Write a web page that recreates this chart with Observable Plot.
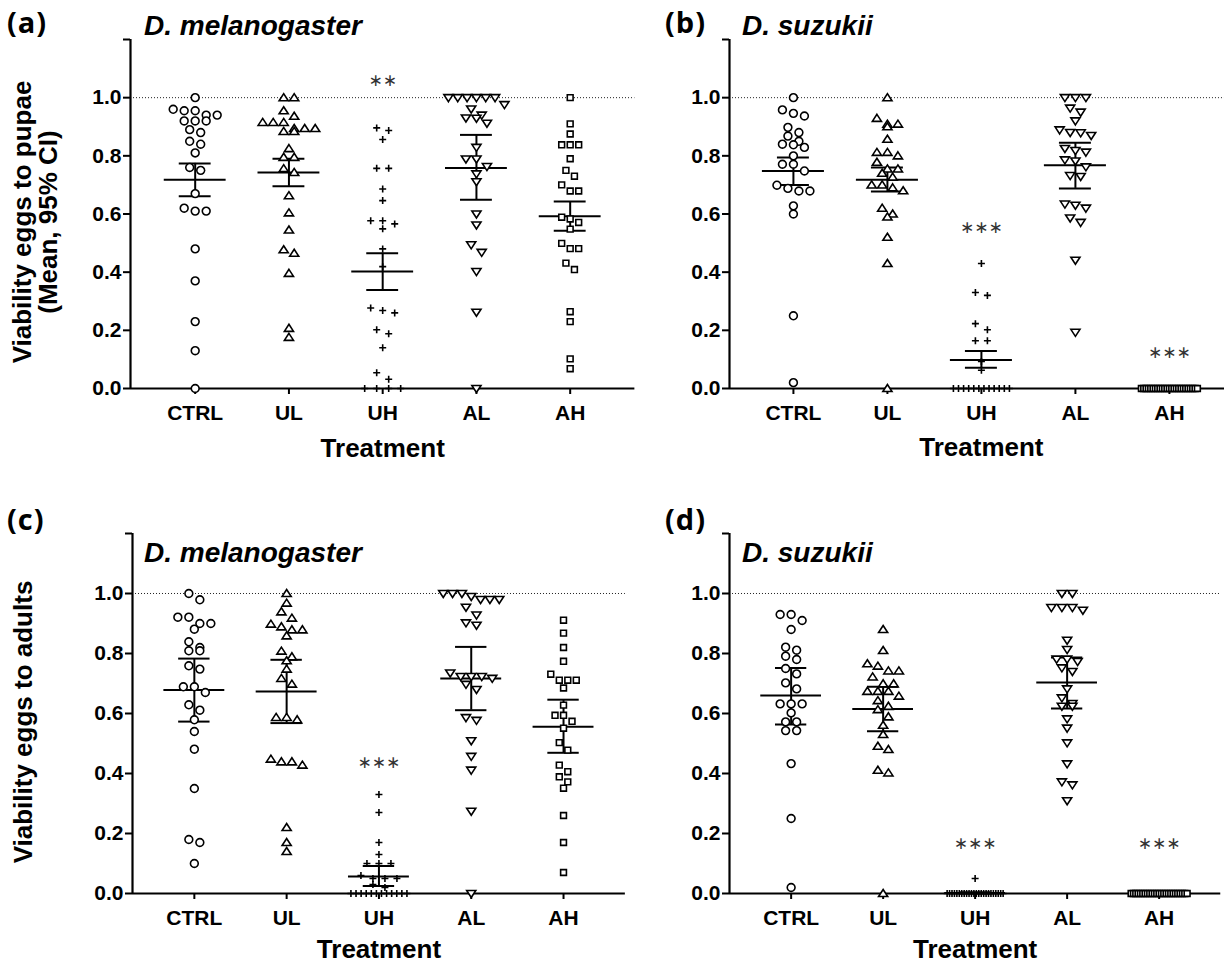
<!DOCTYPE html>
<html><head><meta charset="utf-8">
<script src="https://cdn.jsdelivr.net/npm/d3@7"></script>
<script src="https://cdn.jsdelivr.net/npm/@observablehq/plot@0.6"></script>
<style>
body{margin:0;overflow:hidden;background:#fff;}
#wrap{position:relative;width:1224px;height:965px;overflow:hidden;}
.pl{position:absolute;font-family:"Open Sans",sans-serif;font-weight:700;font-size:29px;line-height:1;letter-spacing:1px;}
.ti{position:absolute;font-family:"Liberation Sans",Arial,sans-serif;font-weight:700;font-style:italic;font-size:28px;line-height:1;white-space:nowrap;}
.yl{position:absolute;font-family:"Liberation Sans",Arial,sans-serif;font-weight:700;font-size:26px;line-height:26px;text-align:center;white-space:nowrap;transform:translate(-50%,-50%) rotate(-90deg);}
</style></head><body><div id="wrap"></div>
<script>
const treatments = ["CTRL","UL","UH","AL","AH"];
const yTicks = [0, 0.2, 0.4, 0.6, 0.8, 1.0, 1.2];

// (a) D. melanogaster, eggs to pupae
const aCTRL = [1.00,0.96,0.955,0.955,0.94,0.94,0.92,0.92,0.92,0.89,0.88,0.85,0.84,0.81,0.76,0.75,0.67,0.62,0.61,0.61,0.48,0.37,0.23,0.13,0.00];
const aUL = [1.0,1.0,0.955,0.936,0.915,0.915,0.915,0.894,0.894,0.894,0.884,0.884,0.825,0.795,0.795,0.756,0.743,0.663,0.604,0.545,0.477,0.465,0.396,0.207,0.176];
const aUH = [0.896,0.887,0.856,0.757,0.757,0.686,0.646,0.577,0.577,0.566,0.549,0.48,0.419,0.277,0.268,0.26,0.202,0.188,0.14,0.054,0.032,0,0,0,0];
const aAL = [1,1,1,1,1,1,0.976,0.961,0.94,0.93,0.929,0.912,0.829,0.789,0.789,0.763,0.738,0.711,0.60,0.562,0.494,0.468,0.402,0.262,0.0];
const aAH = [1.0,0.91,0.875,0.838,0.838,0.838,0.79,0.75,0.73,0.70,0.679,0.679,0.589,0.583,0.571,0.548,0.499,0.481,0.481,0.431,0.409,0.264,0.23,0.102,0.068];
const aMean = [0.718,0.743,0.402,0.758,0.592];
const aLo = [0.661,0.695,0.339,0.649,0.542];
const aHi = [0.774,0.790,0.465,0.872,0.643];
const aStarCats = ["UH"], aStarY = [1.06], aStarText = ["∗∗"];

// (b) D. suzukii, eggs to pupae
const bCTRL = [1.0,0.958,0.946,0.937,0.898,0.88,0.868,0.85,0.84,0.838,0.829,0.80,0.771,0.771,0.748,0.699,0.688,0.679,0.679,0.628,0.60,0.25,0.02];
const bUL = [1.0,0.929,0.909,0.909,0.90,0.857,0.812,0.812,0.80,0.778,0.755,0.755,0.74,0.727,0.70,0.70,0.69,0.68,0.62,0.60,0.59,0.52,0.43,0.0];
const bUH = [0.43,0.33,0.32,0.223,0.202,0.164,0.164,0.093,0.0625,0,0,0,0,0,0,0,0,0,0,0,0];
const bAL = [1,1,1,0.964,0.95,0.92,0.889,0.88,0.879,0.87,0.825,0.818,0.8125,0.786,0.782,0.762,0.732,0.729,0.634,0.63,0.62,0.586,0.571,0.441,0.193];
const bAH = [0,0,0,0,0,0,0,0,0,0,0,0,0,0,0,0,0,0,0,0,0,0,0,0,0];
const bMean = [0.748,0.718,0.098,0.768,0];
const bLo = [0.700,0.677,0.071,0.688,0];
const bHi = [0.794,0.760,0.129,0.845,0];
const bStarCats = ["UH","AH"], bStarY = [0.553,0.124], bStarText = ["∗∗∗","∗∗∗"];

// (c) D. melanogaster, eggs to adults
const cCTRL = [1.0,0.979,0.921,0.921,0.90,0.90,0.881,0.839,0.82,0.809,0.809,0.759,0.748,0.689,0.689,0.67,0.629,0.611,0.579,0.54,0.481,0.35,0.18,0.17,0.10];
const cUL = [1.0,0.968,0.939,0.918,0.898,0.889,0.879,0.879,0.859,0.808,0.789,0.776,0.748,0.717,0.698,0.587,0.587,0.579,0.448,0.439,0.439,0.428,0.22,0.17,0.14];
const cUH = [0.33,0.27,0.17,0.13,0.10,0.10,0.10,0.06,0.05,0.05,0.05,0.03,0.02,0,0,0,0,0,0,0,0,0,0,0,0];
const cAL = [1,1,1,0.99,0.98,0.98,0.98,0.954,0.928,0.902,0.894,0.735,0.723,0.723,0.723,0.717,0.697,0.68,0.586,0.577,0.509,0.457,0.411,0.274,0.0];
const cAH = [0.911,0.868,0.82,0.774,0.731,0.711,0.711,0.711,0.685,0.628,0.594,0.594,0.574,0.551,0.503,0.478,0.428,0.406,0.389,0.372,0.351,0.26,0.17,0.07];
const cMean = [0.678,0.673,0.057,0.717,0.556];
const cLo = [0.573,0.568,0.025,0.611,0.469];
const cHi = [0.783,0.779,0.092,0.822,0.646];
const cStarCats = ["UH"], cStarY = [0.435], cStarText = ["∗∗∗"];

// (d) D. suzukii, eggs to adults
const dCTRL = [0.93,0.93,0.91,0.88,0.821,0.811,0.791,0.78,0.75,0.732,0.702,0.682,0.632,0.632,0.632,0.602,0.572,0.572,0.543,0.543,0.433,0.25,0.02];
const dUL = [0.88,0.81,0.766,0.758,0.742,0.742,0.722,0.699,0.699,0.674,0.674,0.674,0.658,0.643,0.624,0.613,0.589,0.561,0.53,0.491,0.48,0.411,0.402,0.0];
const dUH = [0.05,0,0,0,0,0,0,0,0,0,0,0,0,0,0,0,0,0,0,0,0,0,0,0,0];
const dAL = [1,1,0.953,0.953,0.953,0.944,0.844,0.813,0.781,0.781,0.773,0.752,0.74,0.682,0.652,0.633,0.624,0.624,0.582,0.551,0.502,0.432,0.372,0.362,0.309];
const dAH = [0,0,0,0,0,0,0,0,0,0,0,0,0,0,0,0,0,0,0,0,0,0,0,0,0];
const dMean = [0.660,0.615,0.002,0.703,0];
const dLo = [0.563,0.541,0,0.617,0];
const dHi = [0.752,0.689,0.004,0.787,0];
const dStarCats = ["UH","AH"], dStarY = [0.168,0.168], dStarText = ["∗∗∗","∗∗∗"];

// ---- symbols (open markers) ----
const rad = s => Math.sqrt(s / Math.PI);
const circleSym = {draw(c, s){ const r = rad(s); c.moveTo(r,0); c.arc(0,0,r,0,2*Math.PI); }};
const triUpSym = {draw(c, s){ const r = rad(s); c.moveTo(0,-r*1.05); c.lineTo(r*1.2,r*0.8); c.lineTo(-r*1.2,r*0.8); c.closePath(); }};
const triDownSym = {draw(c, s){ const r = rad(s); c.moveTo(0,r*1.05); c.lineTo(r*1.2,-r*0.8); c.lineTo(-r*1.2,-r*0.8); c.closePath(); }};
const plusSym = {draw(c, s){ const r = rad(s); c.moveTo(-r,0); c.lineTo(r,0); c.moveTo(0,-r); c.lineTo(0,r); }};
const squareSym = {draw(c, s){ const r = rad(s); c.rect(-r,-r,2*r,2*r); }};
const SYMS = [circleSym, triUpSym, plusSym, triDownSym, squareSym];
const symR = [3.9, 3.8, 3.5, 3.8, 2.9];
const symStep = [11, 10.5, 12, 10.5, 8.5];

function spread(vals, step, maxW, thr) {
  const s = vals.slice().sort((a, b) => b - a);
  const out = [];
  let row = [];
  const flush = () => {
    const n = row.length;
    const sp = n > 1 ? Math.min(step, maxW / (n - 1)) : 0;
    row.forEach((v, j) => out.push({v, off: (j - (n - 1) / 2) * sp}));
    row = [];
  };
  for (const v of s) { if (row.length && row[0] - v > thr) flush(); row.push(v); }
  flush();
  return out;
}

const wrap = document.getElementById("wrap");
const FONT = "'Liberation Sans', Arial, sans-serif";

function drawPanel(p) {
  const innerW = (4 + 2 * p.pad) * p.step;
  const width = p.marginLeft + innerW + 4;
  const pts = [];
  p.values.forEach((vals, i) => spread(vals, symStep[i], 56, 0.027)
    .forEach(d => pts.push({i, v: d.v, x: i + d.off / p.step})));
  const stats = treatments.map((t, i) => ({i, m: p.mean[i], lo: p.lo[i], hi: p.hi[i]}));
  const stars = p.starCats.map((c, k) => ({i: treatments.indexOf(c), v: p.starY[k], s: p.starText[k]}));
  const chart = Plot.plot({
    width, height: p.height,
    marginLeft: p.marginLeft, marginRight: 4, marginTop: p.marginTop, marginBottom: p.marginBottom,
    style: {fontFamily: FONT, fontWeight: "bold", background: "transparent", overflow: "visible", color: "black"},
    x: {type: "linear", domain: [-p.pad, 4 + p.pad], label: null},
    y: {domain: [0, 1.2], label: null},
    marks: [
      Plot.ruleY([1], {stroke: "#222", strokeWidth: 1, strokeDasharray: "1,2"}),
      Plot.ruleY(stats, {y: "m", x1: d => d.i - 0.33, x2: d => d.i + 0.33, strokeWidth: 2}),
      Plot.ruleX(stats, {x: "i", y1: "lo", y2: "hi", strokeWidth: 2}),
      Plot.ruleY(stats, {y: "lo", x1: d => d.i - 0.17, x2: d => d.i + 0.17, strokeWidth: 2}),
      Plot.ruleY(stats, {y: "hi", x1: d => d.i - 0.17, x2: d => d.i + 0.17, strokeWidth: 2}),
      Plot.axisY({ticks: yTicks, tickFormat: d => d > 1.1 ? "" : d.toFixed(1), tickSize: 7, tickPadding: 2,
        strokeWidth: 2, fontSize: 21, fontWeight: "bold", label: null}),
      Plot.axisX({ticks: [0, 1, 2, 3, 4], tickFormat: i => treatments[i], tickSize: 6, tickPadding: 11,
        strokeWidth: 2, fontSize: 21, fontWeight: "bold", label: null}),
      Plot.ruleX([-p.pad], {strokeWidth: 2.2}),
      Plot.ruleY([0], {strokeWidth: 2.2}),
      ...[0, 1, 2, 3, 4].map(i => Plot.dot(pts.filter(d => d.i === i), {
        x: "x", y: "v", symbol: SYMS[i], r: symR[i],
        fill: i === 2 ? "none" : "white", stroke: "black", strokeWidth: 1.6
      })),
      Plot.text(stars, {x: "i", y: "v", text: "s", fontFamily: "DejaVu Sans", fontWeight: "normal",
        fontSize: 17, fill: "#333"}),
      Plot.text(["Treatment"], {frameAnchor: "bottom", dy: p.titleDy, fontSize: 26, fontWeight: "bold"})
    ]
  });
  chart.style.position = "absolute";
  chart.style.left = p.left + "px";
  chart.style.top = p.top + "px";
  wrap.appendChild(chart);
}

drawPanel({values: [aCTRL, aUL, aUH, aAL, aAH], mean: aMean, lo: aLo, hi: aHi,
  starCats: aStarCats, starY: aStarY, starText: aStarText,
  left: 0, top: 0, marginLeft: 130, step: 93.75, pad: 0.69,
  height: 468, marginTop: 39, marginBottom: 80, titleDy: 68});
drawPanel({values: [bCTRL, bUL, bUH, bAL, bAH], mean: bMean, lo: bLo, hi: bHi,
  starCats: bStarCats, starY: bStarY, starText: bStarText,
  left: 599, top: 0, marginLeft: 130, step: 94, pad: 0.68,
  height: 468, marginTop: 39, marginBottom: 80, titleDy: 68});
drawPanel({values: [cCTRL, cUL, cUH, cAL, cAH], mean: cMean, lo: cLo, hi: cHi,
  starCats: cStarCats, starY: cStarY, starText: cStarText,
  left: 0, top: 494, marginLeft: 132, step: 92.3, pad: 0.67,
  height: 470, marginTop: 39, marginBottom: 71, titleDy: 65});
drawPanel({values: [dCTRL, dUL, dUH, dAL, dAH], mean: dMean, lo: dLo, hi: dHi,
  starCats: dStarCats, starY: dStarY, starText: dStarText,
  left: 599, top: 494, marginLeft: 130, step: 92, pad: 0.67,
  height: 470, marginTop: 39, marginBottom: 71, titleDy: 65});

function addDiv(cls, html, left, top) {
  const d = document.createElement("div");
  d.className = cls; d.innerHTML = html;
  d.style.left = left + "px"; d.style.top = top + "px";
  wrap.appendChild(d);
}
addDiv("pl", "(a)", 7, 7);
addDiv("pl", "(b)", 665, 7);
addDiv("pl", "(c)", 7, 504);
addDiv("pl", "(d)", 665, 504);
addDiv("ti", "D. melanogaster", 144, 12);
addDiv("ti", "D. suzukii", 742, 12);
addDiv("ti", "D. melanogaster", 144, 539);
addDiv("ti", "D. suzukii", 742, 539);
addDiv("yl", "Viability eggs to pupae<br>(Mean, 95% CI)", 35, 222);
addDiv("yl", "Viability eggs to adults", 23, 722);
</script></body></html>
